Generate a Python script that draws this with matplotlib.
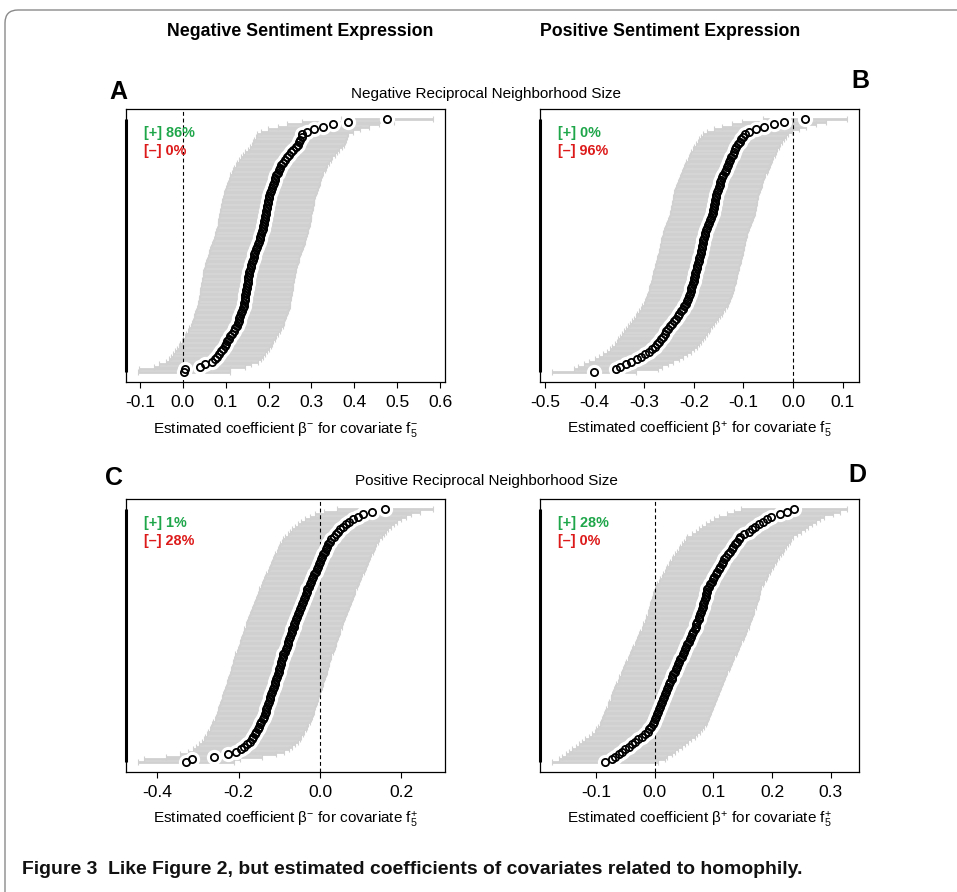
import matplotlib
matplotlib.use("Agg")
import matplotlib.pyplot as plt
from matplotlib.patches import FancyBboxPatch

plt.rcParams['font.family'] = ['Liberation Sans', 'DejaVu Sans']
plt.rcParams['mathtext.fontset'] = 'custom'
plt.rcParams['mathtext.rm'] = 'Liberation Sans'
plt.rcParams['mathtext.it'] = 'Liberation Sans'
plt.rcParams['mathtext.bf'] = 'Liberation Sans:bold'

# geschaetzte Koeffizienten (sortiert)
est_a = [0.002, 0.004, 0.039, 0.052, 0.068, 0.075, 0.080, 0.084, 0.089, 0.093,
         0.098, 0.101, 0.104, 0.107, 0.111, 0.115, 0.119, 0.122, 0.126, 0.128,
         0.130, 0.132, 0.134, 0.136, 0.138, 0.140, 0.142, 0.143, 0.144, 0.145,
         0.146, 0.147, 0.148, 0.149, 0.150, 0.151, 0.152, 0.153, 0.154, 0.155,
         0.156, 0.158, 0.159, 0.161, 0.163, 0.165, 0.167, 0.169, 0.171, 0.173,
         0.175, 0.177, 0.179, 0.181, 0.183, 0.185, 0.186, 0.188, 0.189, 0.190,
         0.191, 0.192, 0.193, 0.194, 0.196, 0.197, 0.198, 0.199, 0.200, 0.202,
         0.204, 0.206, 0.208, 0.210, 0.212, 0.214, 0.216, 0.218, 0.221, 0.224,
         0.227, 0.230, 0.234, 0.238, 0.242, 0.247, 0.252, 0.258, 0.264, 0.268,
         0.271, 0.274, 0.277, 0.279, 0.290, 0.306, 0.328, 0.350, 0.385, 0.477]

est_b = [-0.401, -0.357, -0.349, -0.337, -0.326, -0.314, -0.306, -0.298, -0.290, -0.284,
         -0.279, -0.274, -0.270, -0.267, -0.263, -0.259, -0.255, -0.252, -0.248, -0.244,
         -0.240, -0.236, -0.232, -0.229, -0.226, -0.222, -0.219, -0.216, -0.214, -0.212,
         -0.210, -0.208, -0.206, -0.205, -0.203, -0.202, -0.200, -0.199, -0.198, -0.197,
         -0.196, -0.194, -0.193, -0.191, -0.190, -0.189, -0.187, -0.186, -0.185, -0.184,
         -0.183, -0.182, -0.181, -0.180, -0.178, -0.177, -0.175, -0.173, -0.171, -0.169,
         -0.167, -0.165, -0.163, -0.162, -0.161, -0.160, -0.159, -0.158, -0.157, -0.156,
         -0.155, -0.154, -0.152, -0.150, -0.148, -0.147, -0.145, -0.143, -0.141, -0.138,
         -0.136, -0.134, -0.132, -0.130, -0.127, -0.125, -0.122, -0.120, -0.117, -0.114,
         -0.111, -0.107, -0.104, -0.100, -0.096, -0.088, -0.074, -0.059, -0.038, -0.018,
         0.024]

est_c = [-0.330, -0.316, -0.261, -0.226, -0.206, -0.195, -0.187, -0.180, -0.173, -0.168,
         -0.164, -0.160, -0.157, -0.153, -0.150, -0.147, -0.144, -0.141, -0.139, -0.136,
         -0.134, -0.132, -0.130, -0.128, -0.126, -0.124, -0.122, -0.120, -0.118, -0.116,
         -0.114, -0.112, -0.110, -0.108, -0.106, -0.104, -0.102, -0.100, -0.099, -0.097,
         -0.096, -0.094, -0.092, -0.090, -0.087, -0.084, -0.082, -0.080, -0.078, -0.076,
         -0.074, -0.072, -0.070, -0.068, -0.065, -0.063, -0.061, -0.059, -0.057, -0.054,
         -0.052, -0.050, -0.047, -0.045, -0.042, -0.040, -0.038, -0.035, -0.033, -0.031,
         -0.028, -0.025, -0.022, -0.019, -0.017, -0.014, -0.011, -0.008, -0.005, -0.002,
         0.000, 0.002, 0.005, 0.008, 0.011, 0.014, 0.017, 0.020, 0.024, 0.028,
         0.033, 0.038, 0.044, 0.050, 0.057, 0.064, 0.072, 0.080, 0.092, 0.105,
         0.128, 0.160]

est_d = [-0.085, -0.073, -0.068, -0.060, -0.056, -0.050, -0.044, -0.039, -0.033, -0.028,
         -0.022, -0.017, -0.012, -0.009, -0.006, -0.003, -0.001, 0.001, 0.002, 0.004,
         0.006, 0.008, 0.010, 0.011, 0.013, 0.015, 0.016, 0.018, 0.019, 0.021,
         0.023, 0.025, 0.027, 0.029, 0.030, 0.032, 0.034, 0.036, 0.038, 0.040,
         0.042, 0.044, 0.046, 0.048, 0.050, 0.052, 0.054, 0.056, 0.058, 0.060,
         0.062, 0.064, 0.066, 0.068, 0.070, 0.071, 0.073, 0.075, 0.076, 0.078,
         0.079, 0.080, 0.082, 0.083, 0.084, 0.086, 0.087, 0.088, 0.089, 0.090,
         0.092, 0.094, 0.097, 0.099, 0.102, 0.104, 0.107, 0.109, 0.112, 0.114,
         0.117, 0.119, 0.122, 0.125, 0.128, 0.131, 0.134, 0.137, 0.140, 0.143,
         0.146, 0.153, 0.160, 0.166, 0.171, 0.178, 0.185, 0.192, 0.199, 0.214,
         0.225, 0.238]

# halbe Breite der Konfidenzintervalle
half_a = 0.107
half_b = 0.085
half_c = 0.118
half_d = 0.090

ticks_a = [-0.1, 0.0, 0.1, 0.2, 0.3, 0.4, 0.5, 0.6]
ticks_b = [-0.5, -0.4, -0.3, -0.2, -0.1, 0.0, 0.1]
ticks_c = [-0.4, -0.2, 0.0, 0.2]
ticks_d = [-0.1, 0.0, 0.1, 0.2, 0.3]

pos_a, neg_a = "86%", "0%"
pos_b, neg_b = "0%", "96%"
pos_c, neg_c = "1%", "28%"
pos_d, neg_d = "28%", "0%"

label_a = r'Estimated coefficient β$^{-}$ for covariate f$_{5}^{-}$'
label_b = r'Estimated coefficient β$^{+}$ for covariate f$_{5}^{-}$'
label_c = r'Estimated coefficient β$^{-}$ for covariate f$_{5}^{+}$'
label_d = r'Estimated coefficient β$^{+}$ for covariate f$_{5}^{+}$'

W, H = 957, 892
fig = plt.figure(figsize=(W / 100, H / 100), dpi=100)


def px(x, y):
    return x / W, 1 - y / H


def panel(left, top, est, half, ticks, pos, neg, label):
    ax = fig.add_axes([left / W, 1 - (top + 273) / H, 319 / W, 273 / H])
    n = len(est)
    y = list(range(n))
    ax.errorbar(est, y, xerr=half, fmt='none', ecolor='#d0d0d0',
                elinewidth=2.0, capsize=2.2, capthick=0.8, zorder=1)
    ax.axvline(0, color='black', lw=0.8, ls=(0, (3.5, 2.5)), zorder=2)
    ax.plot(est, y, 'o', color='white', ms=11, mew=0, zorder=3)
    ax.plot(est, y, 'o', mfc='none', mec='black', ms=5.2, mew=1.3, zorder=4)
    lo = min(est) - half
    hi = max(est) + half
    pad = 0.04 * (hi - lo)
    ax.set_xlim(lo - pad, hi + pad)
    ax.set_ylim(-0.04 * (n - 1), 1.04 * (n - 1))
    ax.plot([lo - pad, lo - pad], [0, n - 1], color='black', lw=2.2,
            solid_capstyle='butt', clip_on=False, zorder=5)
    ax.set_xticks(ticks)
    ax.set_xticklabels(['%.1f' % t for t in ticks])
    ax.set_yticks([])
    ax.tick_params(axis='x', labelsize=12.6, length=4.5, width=0.8, pad=5)
    for s in ax.spines.values():
        s.set_linewidth(0.9)
    ax.set_xlabel(label, fontsize=11, labelpad=7)
    ax.text(0.056, 0.912, "[+] " + pos, transform=ax.transAxes, color='#1fa64a',
            fontsize=10.4, fontweight='bold', va='center', ha='left')
    ax.text(0.056, 0.846, "[\u2013] " + neg, transform=ax.transAxes, color='#dd1a1a',
            fontsize=10.4, fontweight='bold', va='center', ha='left')
    return ax


panel(126, 109, est_a, half_a, ticks_a, pos_a, neg_a, label_a)
panel(540, 109, est_b, half_b, ticks_b, pos_b, neg_b, label_b)
panel(126, 499, est_c, half_c, ticks_c, pos_c, neg_c, label_c)
panel(540, 499, est_d, half_d, ticks_d, pos_d, neg_d, label_d)

# Ueberschriften
fig.text(*px(300, 31), "Negative Sentiment Expression", fontsize=12.8,
         fontweight='bold', ha='center', va='center')
fig.text(*px(670, 31), "Positive Sentiment Expression", fontsize=12.8,
         fontweight='bold', ha='center', va='center')
fig.text(*px(486, 94), "Negative Reciprocal Neighborhood Size", fontsize=11,
         ha='center', va='center')
fig.text(*px(486, 481), "Positive Reciprocal Neighborhood Size", fontsize=11,
         ha='center', va='center')

for letter, x, y in [("A", 118, 92), ("B", 860, 81), ("C", 114, 478), ("D", 857, 475)]:
    fig.text(*px(x, y), letter, fontsize=18, fontweight='bold', ha='center', va='center')

# Bildunterschrift, Breite an die Vorlage anpassen
cap = fig.text(*px(22, 870), "Figure 3  Like Figure 2, but estimated coefficients of "
               "covariates related to homophily.", fontsize=12, fontweight='bold',
               ha='left', va='center', color='#111111',
               family=['Liberation Sans Narrow', 'Liberation Sans', 'DejaVu Sans'])
r = fig.canvas.get_renderer()
w = cap.get_window_extent(renderer=r).width
cap.set_fontsize(12 * 778 / w)

# Rahmen mit runder Ecke
frame = FancyBboxPatch((0.05, -1.0), 12.0, 9.82, boxstyle="round,pad=0,rounding_size=0.13",
                       transform=fig.dpi_scale_trans, fill=False, edgecolor='#8a8a8a',
                       lw=1.0, clip_on=False)
fig.patches.append(frame)

fig.savefig("out.png", dpi=100)
